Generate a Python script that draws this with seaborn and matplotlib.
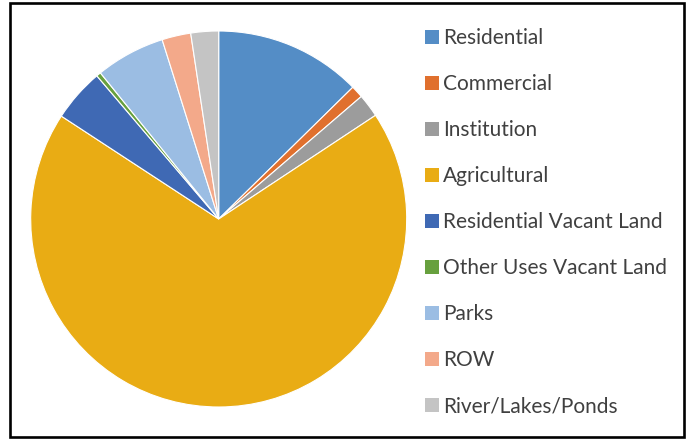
import matplotlib
matplotlib.use("Agg")
import matplotlib.pyplot as plt
import seaborn as sns
from matplotlib.patches import Patch, Rectangle

categories = ["Residential", "Commercial", "Institution", "Agricultural",
              "Residential Vacant Land", "Other Uses Vacant Land", "Parks",
              "ROW", "River/Lakes/Ponds"]
values = [12.64, 1.06, 2.0, 68.5, 4.56, 0.39, 5.97, 2.48, 2.38]
colors = ["#548DC6", "#E0702E", "#9C9C9C", "#E9AC14", "#3F69B4",
          "#67A03E", "#9BBDE3", "#F3A98A", "#C4C4C4"]

sns.set_theme(style="white")
plt.rcParams['font.family'] = ['Lato', 'DejaVu Sans']
palette = sns.color_palette(colors)

W, H = 687, 440
fig = plt.figure(figsize=(W / 100, H / 100), dpi=100)
fig.patch.set_facecolor("white")

cx, cy, r = 218.7, 219.0, 188.0
ax = fig.add_axes([(cx - r) / W, (H - cy - r) / H, 2 * r / W, 2 * r / H])
ax.pie(values, colors=palette, startangle=90, counterclock=False, radius=1.0,
       wedgeprops=dict(edgecolor="white", linewidth=0.8))
ax.set_xlim(-1, 1)
ax.set_ylim(-1, 1)
ax.set_aspect("equal")
ax.axis("off")

handles = [Patch(facecolor=c, edgecolor="none") for c in palette]
fs = 15
leg = fig.legend(handles, categories, loc="upper left",
                 bbox_to_anchor=(425 / W, 1 - 28 / H), frameon=False,
                 fontsize=fs, handlelength=0.65, handleheight=0.65,
                 handletextpad=0.2, labelspacing=1.25, borderpad=0,
                 borderaxespad=0)
for t in leg.get_texts():
    t.set_color("#404040")

border = Rectangle((10 / W, 3 / H), 674 / W, 434 / H, transform=fig.transFigure,
                   fill=False, edgecolor="black", linewidth=1.9)
fig.patches.append(border)

fig.savefig("out.png", dpi=100)
